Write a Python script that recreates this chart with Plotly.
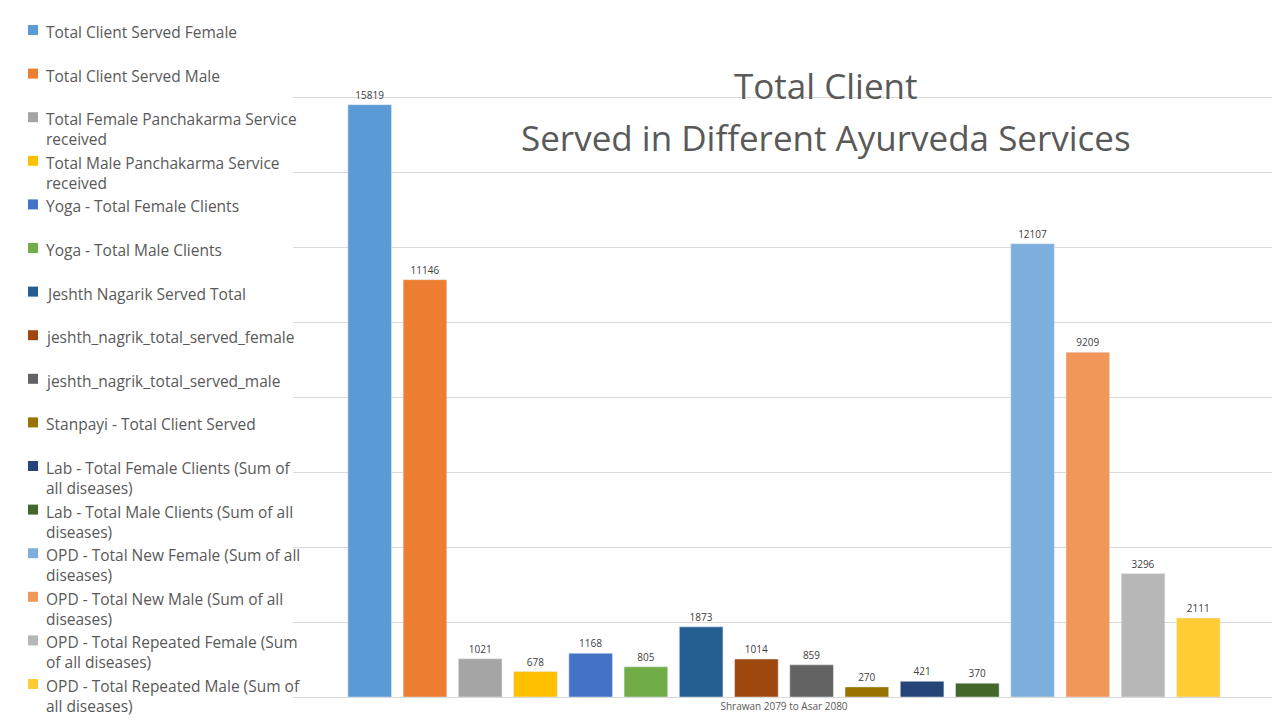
import plotly.graph_objects as go

period = "Shrawan 2079 to Asar 2080"

series_names = [
    "Total Client Served Female",
    "Total Client Served Male",
    "Total Female Panchakarma Service<br>received",
    "Total Male Panchakarma Service<br>received",
    "Yoga - Total Female Clients",
    "Yoga - Total Male Clients",
    "Jeshth Nagarik Served Total",
    "jeshth_nagrik_total_served_female",
    "jeshth_nagrik_total_served_male",
    "Stanpayi - Total Client Served",
    "Lab - Total Female Clients (Sum of<br>all diseases)",
    "Lab - Total Male Clients (Sum of all<br>diseases)",
    "OPD - Total New Female (Sum of all<br>diseases)",
    "OPD - Total New Male (Sum of all<br>diseases)",
    "OPD - Total Repeated Female (Sum<br>of all diseases)",
    "OPD - Total Repeated Male (Sum of<br>all diseases)",
]
series_values = [15819, 11146, 1021, 678, 1168, 805, 1873, 1014, 859, 270, 421, 370,
                 12107, 9209, 3296, 2111]
series_colors = ["#5B9BD5", "#ED7D31", "#A5A5A5", "#FFC000", "#4472C4", "#70AD47",
                 "#255E91", "#9E480E", "#636363", "#997300", "#264478", "#43682B",
                 "#7CAFDD", "#F1975A", "#B7B7B7", "#FFCD33"]

W, H = 1280, 720
ML, MR, MT, MB = 285, 13, 15, 31
pw, ph = W - ML - MR, H - MT - MB


def px_x(x):
    return (x - ML) / pw


def px_y(y):
    return (H - MB - y) / ph


fig = go.Figure()
for name, val, col in zip(series_names, series_values, series_colors):
    fig.add_trace(go.Bar(
        x=[period], y=[val], name=name, marker_color=col,
        text=[val], textposition="outside",
        textfont=dict(size=10, color="#404040"), cliponaxis=False,
    ))

# Excel-style legend drawn down the left side
shapes, annotations = [], []
for i, (name, col) in enumerate(zip(series_names, series_colors)):
    top = 15 + 43.6 * i
    shapes.append(dict(type="rect", xref="paper", yref="paper",
                       x0=px_x(20), x1=px_x(30), y0=px_y(top + 12), y1=px_y(top + 2),
                       fillcolor=col, line_width=0))
    annotations.append(dict(text=name, xref="paper", yref="paper",
                            x=px_x(36), y=px_y(top - 4), xanchor="left", yanchor="top",
                            align="left", showarrow=False,
                            font=dict(size=15.5, color="#595959")))

annotations.append(dict(text="Total Client", xref="paper", yref="paper",
                        x=px_x(818), y=px_y(78), xanchor="center", yanchor="middle",
                        showarrow=False, font=dict(size=35, color="#595959")))
annotations.append(dict(text="Served in Different Ayurveda Services", xref="paper", yref="paper",
                        x=px_x(818), y=px_y(130), xanchor="center", yanchor="middle",
                        showarrow=False, font=dict(size=35, color="#595959")))

fig.update_layout(
    width=W, height=H,
    paper_bgcolor="white", plot_bgcolor="white",
    font=dict(family="Open Sans, Calibri, sans-serif", color="#595959"),
    margin=dict(l=ML, r=MR, t=MT, b=MB, autoexpand=False),
    barmode="group", bargap=0.1, bargroupgap=0.21,
    showlegend=False,
    shapes=shapes, annotations=annotations,
)
fig.update_xaxes(showline=True, linecolor="#D9D9D9", tickfont=dict(size=10, color="#595959"),
                 ticks="")
fig.update_yaxes(range=[0, 18000], dtick=2000, showgrid=True, gridcolor="#D9D9D9",
                 showticklabels=False, zeroline=False)

fig.write_html("out.html")
